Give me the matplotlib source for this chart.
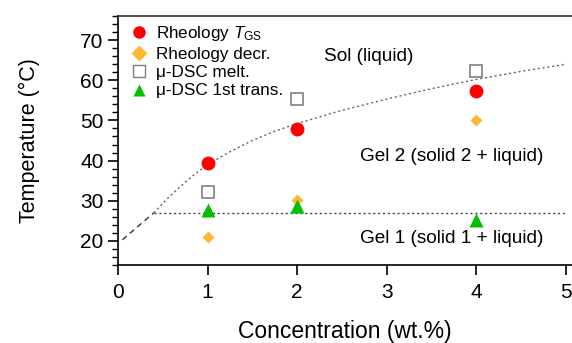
import matplotlib
matplotlib.use('Agg')
import matplotlib.pyplot as plt
from matplotlib.ticker import MultipleLocator
from matplotlib.lines import Line2D

plt.rcParams['font.family'] = ['Liberation Sans', 'DejaVu Sans']
plt.rcParams['mathtext.fontset'] = 'custom'
plt.rcParams['mathtext.rm'] = 'Liberation Sans'
plt.rcParams['mathtext.it'] = 'Liberation Sans:italic'

# Data
conc = [1, 2, 4]
rheo_tgs = [39.5, 47.8, 57.4]
rheo_decr = [21.0, 30.2, 50.0]
dsc_melt = [32.3, 55.3, 62.4]
dsc_first = [27.7, 28.8, 25.3]

# guide lines
dash_x = [0.05, 0.4]
dash_y = [20.3, 27.0]
curve_x = [0.4, 0.55, 0.7, 0.85, 1.0, 1.25, 1.5, 1.75, 2.0, 2.5, 3.0, 3.5, 4.0, 4.5, 5.0]
curve_y = [27.0, 30.5, 33.6, 36.5, 39.0, 42.2, 45.0, 47.3, 49.2, 52.5, 55.3, 57.9, 60.2, 62.2, 64.0]
hline_x = [0.4, 5.0]
hline_y = [27.0, 27.0]

fig = plt.figure(figsize=(5.72, 3.43), dpi=100)
ax = fig.add_axes([0.2063, 0.2274, 0.7937, 0.726])

ax.plot(dash_x, dash_y, color='#333333', lw=1.0, dashes=(4, 3))
ax.plot(curve_x, curve_y, color='#666666', lw=1.0, dashes=(1.5, 2))
ax.plot(hline_x, hline_y, color='#444444', lw=1.0, dashes=(1.5, 2))

ax.plot(conc, rheo_decr, 'D', color='#ffb833', ms=6, mec='none', zorder=3)
ax.plot(conc, dsc_first, '^', color='#00c000', ms=10, mec='none', zorder=3)
ax.plot(conc, dsc_melt, 's', mfc='white', mec='#7f7f7f', mew=1.2, ms=9, zorder=3)
ax.plot(conc, rheo_tgs, 'o', color='#ff0000', ms=10, mec='none', zorder=4)

ax.text(2.30, 65.8, 'Sol (liquid)', fontsize=13.7, va='center')
ax.text(2.70, 40.9, 'Gel 2 (solid 2 + liquid)', fontsize=13.7, va='center')
ax.text(2.70, 20.5, 'Gel 1 (solid 1 + liquid)', fontsize=13.7, va='center')

handles = [
    Line2D([], [], ls='none', marker='o', color='#ff0000', mec='none', ms=9),
    Line2D([], [], ls='none', marker='D', color='#ffb833', mec='none', ms=8),
    Line2D([], [], ls='none', marker='s', mfc='white', mec='#7f7f7f', mew=1.0, ms=8),
    Line2D([], [], ls='none', marker='^', color='#00c000', mec='none', ms=9),
]
labels = ['Rheology $T_{\\mathrm{GS}}$', 'Rheology decr.', '\u03bc-DSC melt.', '\u03bc-DSC 1st trans.']
ax.legend(handles, labels, loc='upper left', bbox_to_anchor=(0.005, 1.008), frameon=False,
          fontsize=12.3, handlelength=1.0, handletextpad=0.5, labelspacing=0.2,
          borderaxespad=0.2)

ax.set_xlim(0, 5.07)
ax.set_ylim(14.0, 76.0)
ax.xaxis.set_major_locator(MultipleLocator(1))
ax.yaxis.set_major_locator(MultipleLocator(10))
ax.yaxis.set_minor_locator(MultipleLocator(2))
ax.set_yticks([20, 30, 40, 50, 60, 70])
ax.tick_params(axis='both', which='major', direction='out', length=7, width=1.2, labelsize=15)
ax.tick_params(axis='y', which='minor', direction='out', length=4, width=1.0)
ax.tick_params(axis='x', pad=6)

for s in ['left', 'bottom']:
    ax.spines[s].set_linewidth(1.2)
ax.spines['top'].set_linewidth(1.2)
ax.spines['top'].set_color('#333333')
ax.spines['right'].set_visible(False)

ax.set_xlabel('Concentration (wt.%)', fontsize=16.5, labelpad=13)
ax.set_ylabel('Temperature (\u00b0C)', fontsize=15.5, labelpad=29)

fig.savefig('out.png', dpi=100)
